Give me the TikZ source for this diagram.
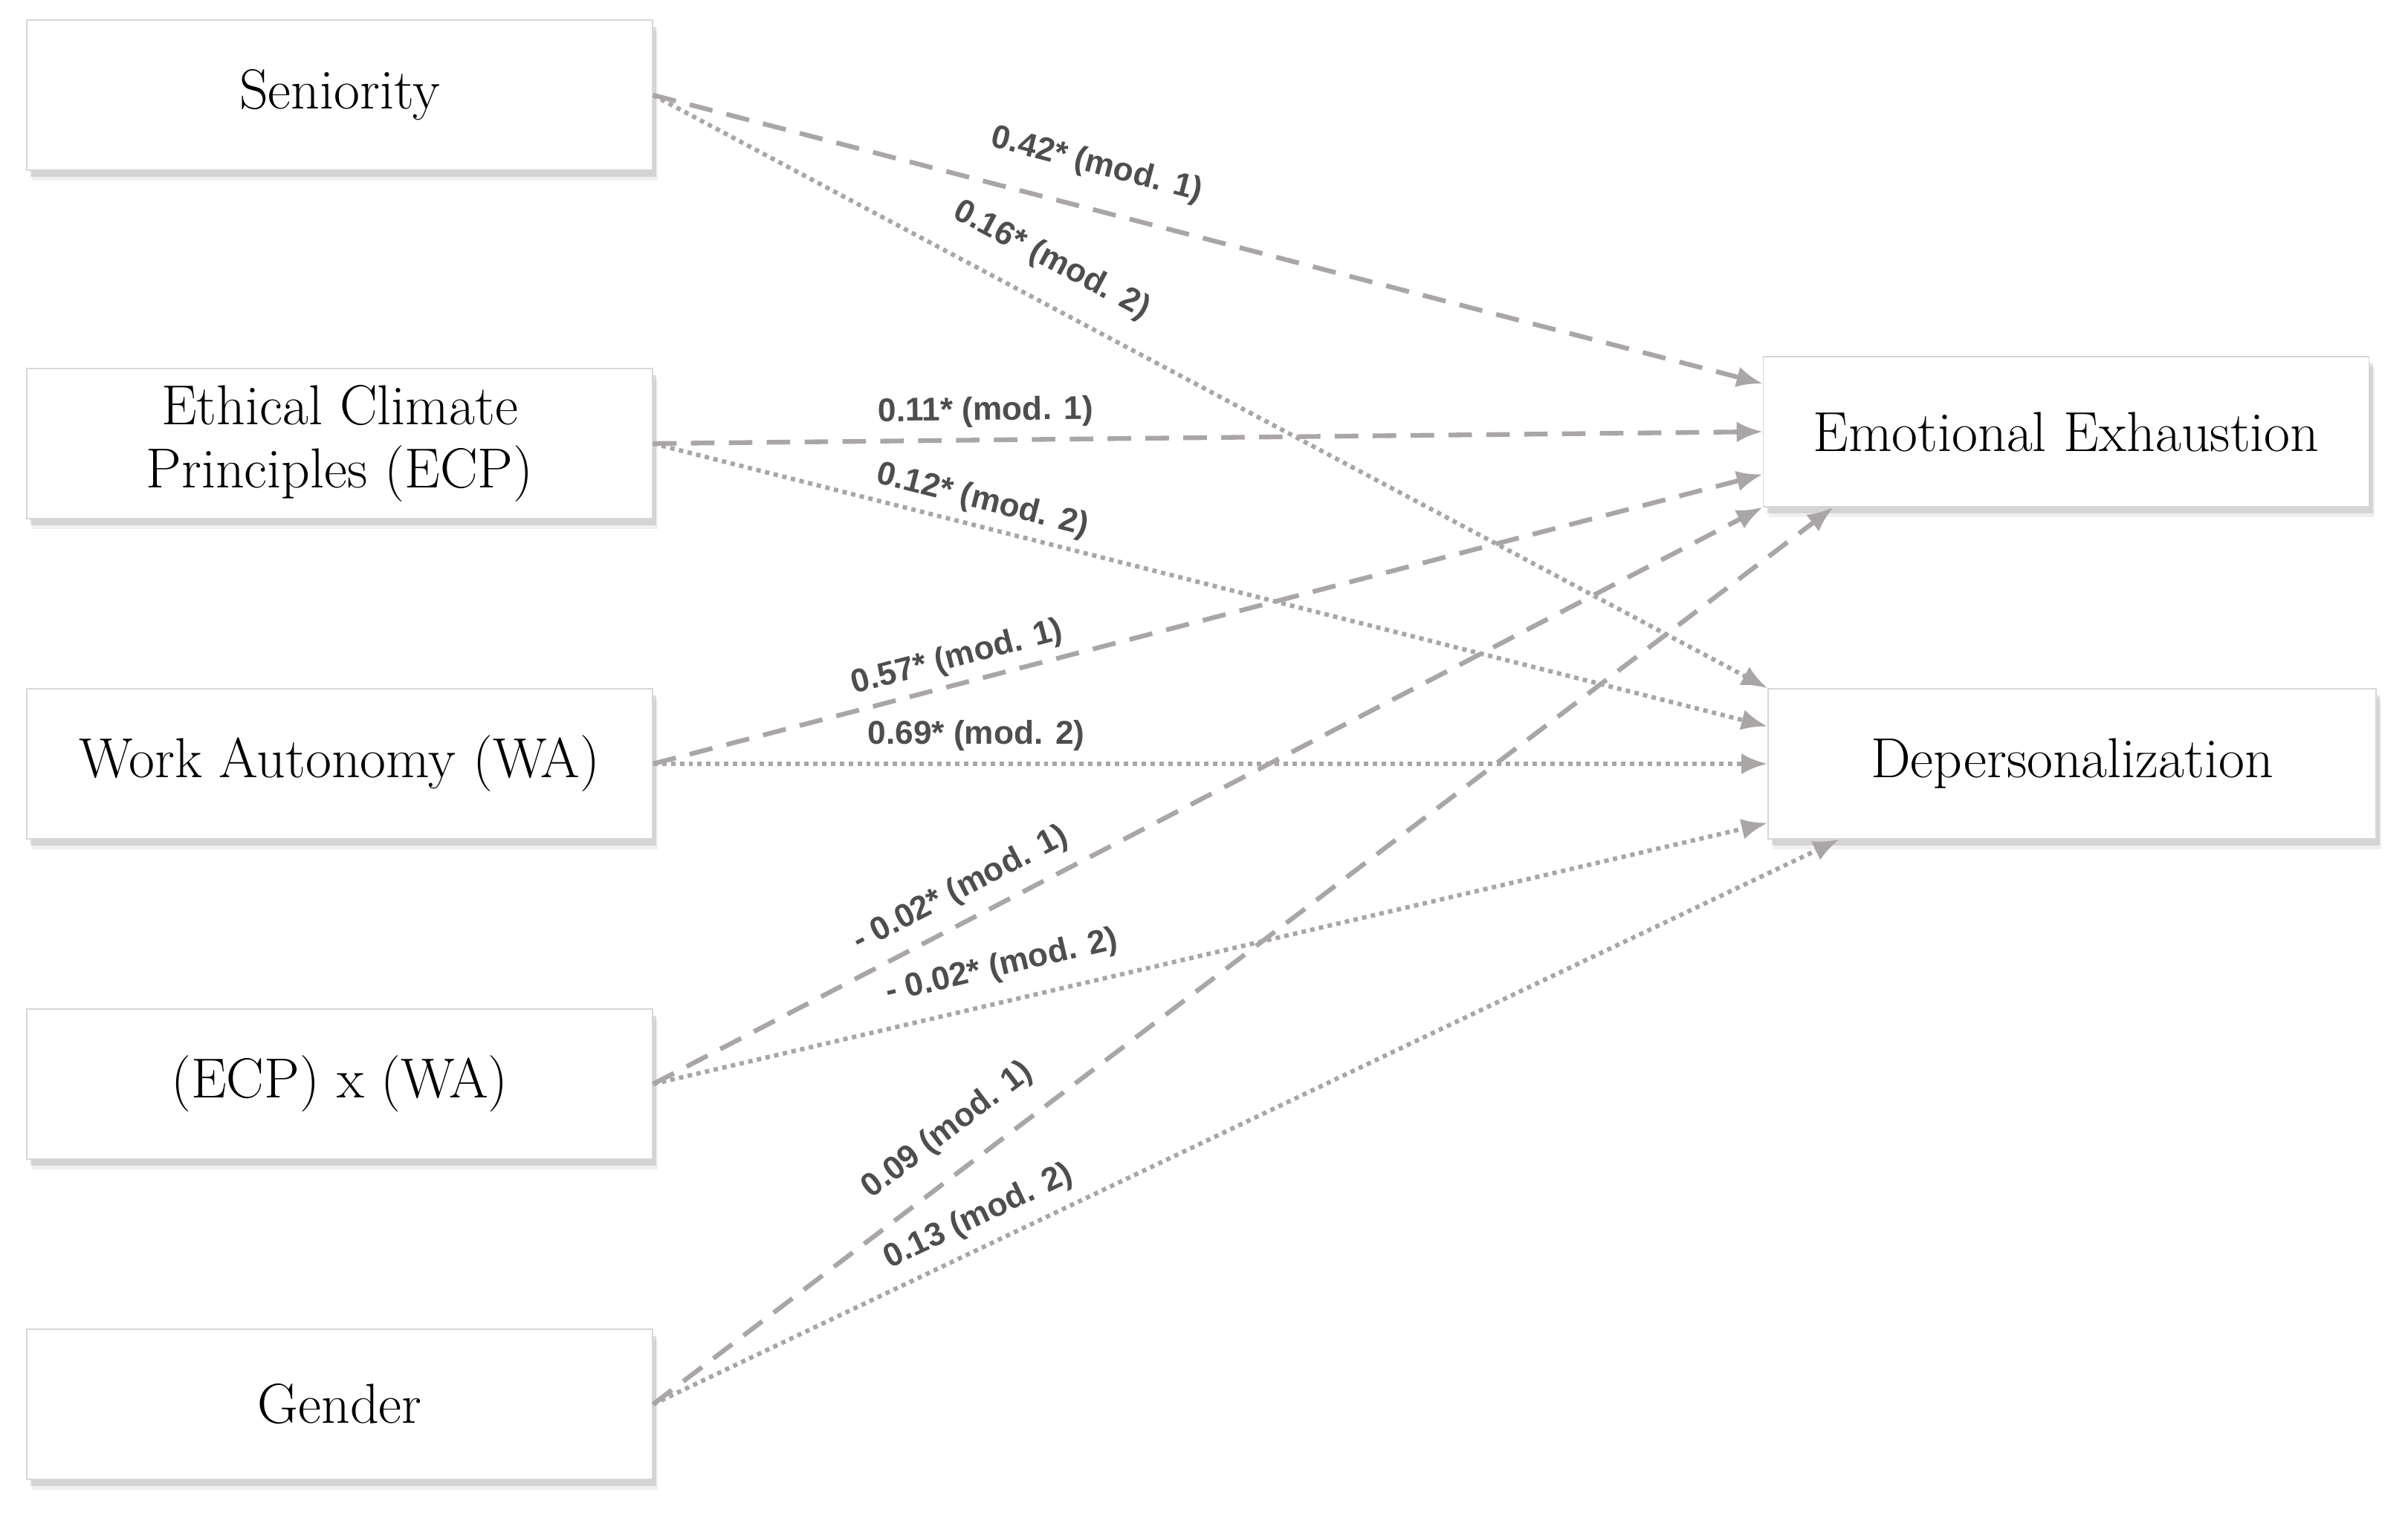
\documentclass[tikz,border=0pt]{standalone}
\usepackage{fontspec}
\usepackage{xcolor}
\usepackage{tikz}
\usetikzlibrary{arrows.meta, positioning, calc, shadows}
\newfontfamily\coeffont{Liberation Sans}
\definecolor{pathgray}{RGB}{170, 166, 166}
\definecolor{coefgray}{RGB}{78, 78, 78}
\definecolor{boxline}{RGB}{215, 215, 215}

\begin{document}
\begin{tikzpicture}[
    varbox/.style={draw=boxline, fill=white, minimum width=8.42cm, minimum height=2.02cm,
        align=center, font=\fontsize{21.6}{24}\selectfont,
        drop shadow={shadow xshift=2pt, shadow yshift=-4pt, opacity=0.12},
        drop shadow={shadow xshift=1.5pt, shadow yshift=-2.5pt, opacity=0.25}},
    modone/.style={->, pathgray, line width=1.8pt, dash pattern=on 9pt off 5.5pt},
    modtwo/.style={->, pathgray, line width=1.7pt, dash pattern=on 1.7pt off 1.7pt},
    coef/.style={sloped, text=coefgray, inner sep=1pt,
        font=\coeffont\bfseries\fontsize{12.6}{14}\selectfont},
    >={Latex[length=10pt, width=8pt]}
]
    \useasboundingbox (0,0) rectangle (32.4,20.69);

    % Predictors
    \node[varbox] (sen) at (4.57,19.41) {Seniority};
    \node[varbox] (ecp) at (4.57,14.72) {Ethical Climate\\Principles (ECP)};
    \node[varbox] (wa) at (4.57,10.41) {Work Autonomy (WA)};
    \node[varbox] (ecpwa) at (4.57,6.10) {(ECP) x (WA)};
    \node[varbox] (gen) at (4.57,1.79) {Gender};

    % Outcomes
    \node[varbox, minimum width=8.15cm] (ee) at (27.80,14.88) {Emotional Exhaustion};
    \node[varbox, minimum width=8.18cm] (dp) at (27.88,10.41) {Depersonalization};

    % Model 1 (dashed, to Emotional Exhaustion)
    \foreach \src/\tgt/\val/\p/\off in {sen/171.3/0.42*/0.39/9pt, ecp/180/0.11*/0.30/3pt,
        wa/188.2/0.57*/0.28/2pt, ecpwa/south west/- 0.02*/0.29/4pt, gen/198.2/0.09/0.27/7.5pt} {
        \draw[modone] (\src.east) -- (ee.\tgt)
            node[coef, pos=\p, above=\off] {\val\ (mod. 1)};
    }

    % Model 2 (dotted, to Depersonalization)
    \foreach \src/\tgt/\val/\p/\off in {sen/north west/0.16*/0.34/8pt, ecp/173.5/0.12*/0.29/2pt,
        wa/180/0.69*/0.29/3pt, ecpwa/191.8/- 0.02*/0.32/5.5pt, gen/198.3/0.13/0.285/3.5pt} {
        \draw[modtwo] (\src.east) -- (dp.\tgt)
            node[coef, pos=\p, above=\off] {\val\ (mod. 2)};
    }
\end{tikzpicture}
\end{document}
